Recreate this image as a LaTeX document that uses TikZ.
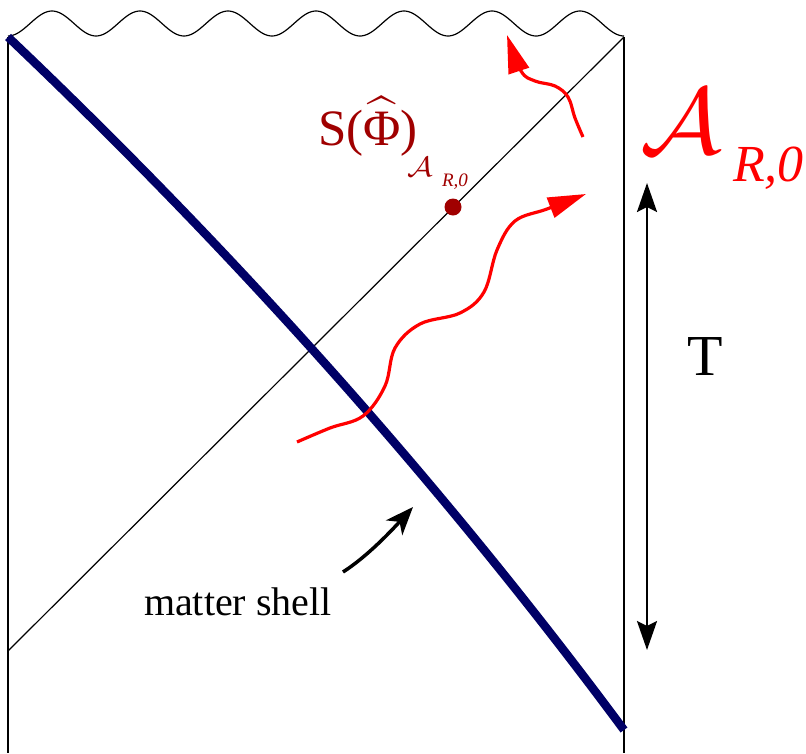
\documentclass[tikz,border=0pt]{standalone}
\usepackage{fontspec}
\setmainfont{Liberation Serif}
\usepackage{graphicx}
\usetikzlibrary{arrows.meta}
\definecolor{shellblue}{RGB}{0,0,102}
\definecolor{dred}{RGB}{160,0,0}
\definecolor{wred}{RGB}{255,0,0}
\newcommand{\fs}[1]{\fontsize{#1}{#1}\selectfont}
\newcommand{\calA}{{\fontsize{10}{12}\selectfont$\mathcal{A}$}}
\begin{document}
\begin{tikzpicture}[x=1pt,y=-1pt,
  thinline/.style={line width=1.2pt, black},
  shell/.style={line width=8.5pt, shellblue},
  redarrow/.style={line width=3.2pt, wred, -{Triangle[length=38pt,width=21pt]}},
  blackarrow/.style={line width=2.5pt, black, {Stealth[length=29pt,width=20pt,inset=5pt]}-{Stealth[length=29pt,width=20pt,inset=5pt]}},
  pointer/.style={line width=3.5pt, black, -{Stealth[length=28pt,width=22pt,inset=8pt]}},
  lab/.style={inner sep=0pt, outer sep=0pt}]
\useasboundingbox (0,0) rectangle (806,753);
% frame corners
\coordinate (TL) at (8,37);
\coordinate (TR) at (624,37);
\coordinate (BL) at (8,753);
\coordinate (BR) at (624,753);
\coordinate (DL) at (8,651);
\coordinate (SE) at (624,730);
% boundaries
\draw[thinline] (TL) -- (BL);
\draw[thinline] (TR) -- (BR);
\draw[thinline] (DL) -- (TR);
\draw[thinline] plot[domain=8:624,samples=281,smooth] (\x,{23.5+12.5*cos(((\x-8)/88)*360)});
% matter shell
\draw[shell] (TL) .. controls (208,227) and (424,460) .. (SE);
% point
\node[circle, fill=dred, minimum size=17pt, inner sep=0pt] (pt) at (453,207) {};
% red wavy arrows
\draw[redarrow] plot[smooth, tension=0.6] coordinates {(297,442) (330,428) (363,416) (385,386) (395,348) (420,324) (460,313) (484,292) (497,250) (515,221) (547,209) (586,194)};
\draw[redarrow] plot[smooth, tension=0.6] coordinates {(583,137) (575,118) (568,97) (555,86) (535,81) (521,71) (507,35)};
% T arrow
\coordinate (Ttop) at (647,183);
\coordinate (Tbot) at (647,650);
\draw[blackarrow] (Ttop) -- (Tbot);
\node[lab, font=\fs{58}] (T) at (705,357) {T};
% matter shell label
\node[lab, anchor=base west, font=\fs{40}] (ms) at (144,615) {matter shell};
\coordinate (msA) at (343,572);
\coordinate (msB) at (413,507);
\draw[pointer] (msA) .. controls (368,556) and (393,529) .. (msB);
% labels
\node[lab, anchor=base west, text=dred] (S) at (318,145) {\scalebox{5.1}{\fontsize{10}{12}\selectfont S($\widehat{\mbox{Φ}}$)}};
\node[lab, anchor=base west, text=dred] (Scal) at (407,176) {\scalebox{3.2}[2.8]{\calA}};
\node[lab, anchor=base west, text=dred, font=\fs{19}\itshape] (Ssub) at (442,186) {R,0};
\node[lab, anchor=base west, text=wred] (Acal) at (640,153) {\scalebox{10.2}[9.4]{\calA}};
\node[lab, anchor=base west, text=wred, font=\fs{52}\itshape] (Asub) at (733,181) {R,0};
\end{tikzpicture}
\end{document}
